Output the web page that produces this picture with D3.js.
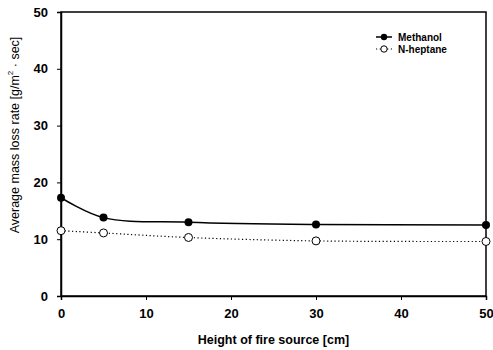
<!DOCTYPE html>
<html>
<head>
<meta charset="utf-8">
<script src="https://cdn.jsdelivr.net/npm/d3@7"></script>
<style>
  body { margin: 0; background: #fff; }
  text { font-family: Arial, "Liberation Sans", sans-serif; }
</style>
</head>
<body>
<div id="container"></div>
<script>
/* DATA */
const heights = [0, 5, 15, 30, 50];
const methanol = [17.3, 13.8, 13.0, 12.6, 12.5];
const heptane = [11.5, 11.1, 10.3, 9.7, 9.6];
const xTicks = [0, 10, 20, 30, 40, 50];
const yTicks = [0, 10, 20, 30, 40, 50];

const width = 493, height = 350,
  margin = { top: 12, right: 7, bottom: 54, left: 61 };

const svg = d3.select("#container").append("svg")
  .attr("width", width).attr("height", height);

const xScale = d3.scaleLinear().domain([0, 50]).range([margin.left, width - margin.right]);
const yScale = d3.scaleLinear().domain([0, 50]).range([height - margin.bottom, margin.top]);

// frame
svg.append("rect")
  .attr("x", xScale(0)).attr("y", yScale(50))
  .attr("width", xScale(50) - xScale(0)).attr("height", yScale(0) - yScale(50))
  .attr("fill", "none").attr("stroke", "#000").attr("stroke-width", 1.5);

// axes
const xAxis = svg.append("g")
  .attr("transform", `translate(0,${yScale(0)})`)
  .call(d3.axisBottom(xScale).tickValues(xTicks).tickSize(4).tickPadding(9));
const yAxis = svg.append("g")
  .attr("transform", `translate(${xScale(0)},0)`)
  .call(d3.axisLeft(yScale).tickValues(yTicks).tickSize(4).tickPadding(9));

[xAxis, yAxis].forEach(a => {
  a.select(".domain").attr("stroke-width", 1.5);
  a.selectAll(".tick line").attr("stroke-width", 1);
  a.selectAll("text").attr("font-size", 13).attr("font-weight", "bold").attr("fill", "#000");
});

// axis titles
svg.append("text")
  .attr("x", (xScale(0) + xScale(50)) / 2).attr("y", 344)
  .attr("text-anchor", "middle").attr("font-size", 12.5).attr("font-weight", "bold")
  .text("Height of fire source [cm]");

const yl = svg.append("text")
  .attr("transform", "translate(19,135) rotate(-90)")
  .attr("text-anchor", "middle").attr("font-size", 12.5);
yl.append("tspan").text("Average mass loss rate [g/m");
yl.append("tspan").attr("font-size", 8).attr("dy", -6).text("2");
yl.append("tspan").attr("dy", 6).text(" \u00B7  sec]");

// lines
const line = d3.line().x(d => xScale(d[0])).y(d => yScale(d[1])).curve(d3.curveCatmullRom.alpha(0.5));
const mData = heights.map((h, i) => [h, methanol[i]]);
const hData = heights.map((h, i) => [h, heptane[i]]);

svg.append("path").datum(mData).attr("d", line)
  .attr("fill", "none").attr("stroke", "#000").attr("stroke-width", 1.5);
svg.append("path").datum(hData).attr("d", line)
  .attr("fill", "none").attr("stroke", "#000").attr("stroke-width", 1.2)
  .attr("stroke-dasharray", "1.2,2.5");

svg.selectAll("circle.m").data(mData).join("circle").attr("class", "m")
  .attr("cx", d => xScale(d[0])).attr("cy", d => yScale(d[1])).attr("r", 4)
  .attr("fill", "#000");
svg.selectAll("circle.h").data(hData).join("circle").attr("class", "h")
  .attr("cx", d => xScale(d[0])).attr("cy", d => yScale(d[1])).attr("r", 4)
  .attr("fill", "#fff").attr("stroke", "#000").attr("stroke-width", 1);

// legend
const legend = svg.append("g").attr("transform", "translate(376,37)");
legend.append("line").attr("x1", 0).attr("x2", 16).attr("y1", 0).attr("y2", 0)
  .attr("stroke", "#000").attr("stroke-width", 1.5);
legend.append("circle").attr("cx", 8).attr("cy", 0).attr("r", 3.2).attr("fill", "#000");
legend.append("text").attr("x", 22).attr("y", 4).attr("font-size", 10).attr("font-weight", "bold").text("Methanol");
legend.append("line").attr("x1", 0).attr("x2", 16).attr("y1", 12).attr("y2", 12)
  .attr("stroke", "#000").attr("stroke-width", 1.2).attr("stroke-dasharray", "1.2,2.5");
legend.append("circle").attr("cx", 8).attr("cy", 12).attr("r", 3.2)
  .attr("fill", "#fff").attr("stroke", "#000");
legend.append("text").attr("x", 22).attr("y", 16).attr("font-size", 10).attr("font-weight", "bold").text("N-heptane");
</script>
</body>
</html>
